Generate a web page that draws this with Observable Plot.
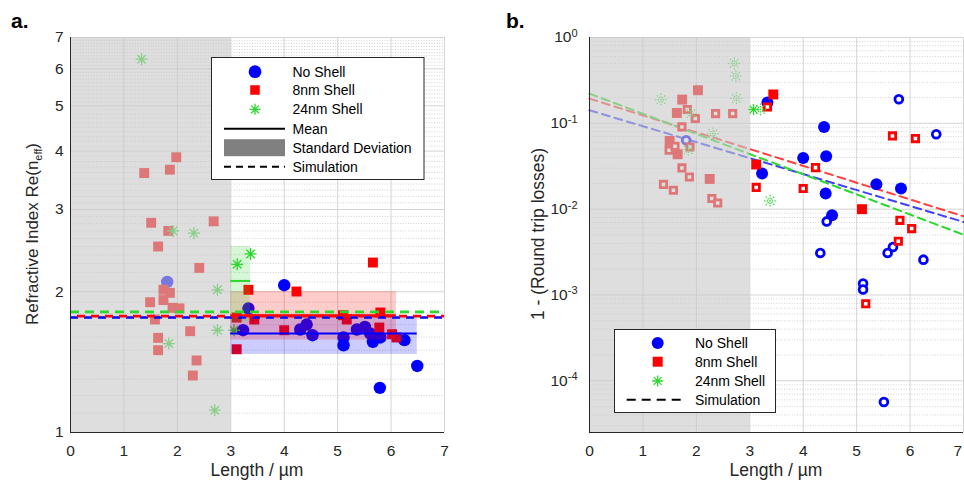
<!DOCTYPE html>
<html><head><meta charset="utf-8">
<script src="https://cdn.jsdelivr.net/npm/d3@7"></script>
<script src="https://cdn.jsdelivr.net/npm/@observablehq/plot@0.6"></script>
<style>
html,body{margin:0;padding:0;background:#fff;overflow:hidden;}
#wrap{position:relative;width:964px;height:481px;}
#wrap svg{position:absolute;top:0;overflow:visible;}
</style></head><body><div id="wrap"></div>
<script>
// ---------- shared ticks ----------
const lengthTicks = [0, 1, 2, 3, 4, 5, 6, 7];
const indexTicks = [1, 2, 3, 4, 5, 6, 7];
const lossTicks = [1e-4, 1e-3, 1e-2, 1e-1, 1];
const groups = ["No Shell", "8nm Shell", "24nm Shell"];
const shadedLength = [0, 3];

// ---------- panel a: refractive index ----------
const aNoShellLen = [1.81, 3.23, 3.33, 4.00, 4.30, 4.42, 4.53, 5.11, 5.11, 5.36, 5.51, 5.61, 5.66, 5.80, 6.25, 6.49, 5.79];
const aNoShellN   = [2.10, 1.655, 1.842, 2.066, 1.661, 1.702, 1.615, 1.597, 1.537, 1.661, 1.682, 1.628, 1.563, 1.597, 1.576, 1.388, 1.246];
const a8nmLen = [1.38, 1.86, 1.98, 1.51, 2.68, 1.83, 1.64, 2.41, 1.74, 1.86, 1.74, 1.49, 1.91, 2.04, 1.58, 2.24, 1.64, 1.64, 2.36, 2.29,
                 3.33, 3.11, 3.11, 3.44, 4.23, 4.00, 5.10, 5.17, 5.66, 5.80, 5.78, 6.02, 6.10];
const a8nmN   = [3.59, 3.65, 3.88, 2.81, 2.83, 2.70, 2.50, 2.25, 2.02, 1.99, 1.92, 1.90, 1.848, 1.843, 1.745, 1.647, 1.594, 1.50, 1.426, 1.324,
                 2.02, 1.762, 1.507, 1.745, 2.003, 1.655, 1.782, 1.745, 2.31, 1.806, 1.677, 1.623, 1.597];
const a24nmLen = [1.33, 1.92, 2.31, 2.75, 2.75, 1.84, 2.70, 3.12, 3.37, 3.06];
const a24nmN   = [6.29, 2.70, 2.67, 2.02, 1.655, 1.55, 1.116, 2.29, 2.41, 1.655];
const aMean     = [1.628, 1.782, 2.11];
const aSdLow    = [1.469, 1.576, 1.72];
const aSdHigh   = [1.762, 2.003, 2.50];
const aFitStart = [3.0, 3.0, 3.0];
const aFitEnd   = [6.49, 6.10, 3.37];
const aSim      = [1.762, 1.774, 1.812];

// ---------- panel b: 1 - round trip losses ----------
const bNoShellLen = [3.33, 4.39, 4.00, 4.43, 3.23, 5.37, 5.83, 4.42, 4.54];
const bNoShellV   = [0.175, 0.0908, 0.0395, 0.0414, 0.026, 0.0195, 0.0174, 0.0152, 0.0085];
const bNoShellOpenLen = [1.81, 5.79, 6.49, 4.44, 4.32, 5.68, 5.58, 6.25, 5.12, 5.12, 5.51];
const bNoShellOpenV   = [0.0636, 0.191, 0.0746, 0.0072, 0.00309, 0.00363, 0.00309, 0.00258, 0.00136, 0.00116, 0.0000566];
const b8nmLen = [2.03, 1.735, 1.635, 1.50, 1.65, 2.25, 3.44, 3.12, 5.10];
const b8nmV   = [0.243, 0.189, 0.132, 0.0624, 0.0436, 0.0225, 0.217, 0.0331, 0.0100];
const b8nmOpenLen = [1.83, 1.98, 2.36, 2.68, 1.73, 1.49, 1.60, 1.88, 1.73, 1.87, 1.385, 1.57, 2.29, 2.40,
                     3.33, 3.12, 4.00, 4.23, 5.67, 6.10, 5.81, 6.03, 5.78, 5.17];
const b8nmOpenV   = [0.145, 0.1138, 0.130, 0.130, 0.0908, 0.0486, 0.054, 0.053, 0.0302, 0.0237, 0.0194, 0.0166, 0.0133, 0.0118,
                     0.155, 0.0179, 0.0174, 0.0305, 0.0713, 0.0665, 0.00742, 0.00594, 0.00423, 0.00079];
const b24nmLen = [3.07];
const b24nmV   = [0.145];
const b24nmOpenLen = [2.71, 2.74, 1.34, 2.75, 1.90, 2.31, 1.85, 3.20, 3.38];
const b24nmOpenV   = [0.498, 0.354, 0.189, 0.195, 0.130, 0.076, 0.049, 0.145, 0.0125];
const bSimLen   = [0, 7];
const bSimNoShell = [0.142, 0.0071];
const bSim8nm     = [0.194, 0.00826];
const bSim24nm    = [0.222, 0.00504];

// ---------- styles ----------
const FONT = '"Liberation Sans", Arial, Helvetica, sans-serif';
const BLUE = "#0000ff", RED = "#ff0000", GREEN = "#2bd82b", INK = "#262626";
const GRID = "#d4d4d4", MINOR = "#c6c6c6";
const groupColor = {"No Shell": BLUE, "8nm Shell": RED, "24nm Shell": GREEN};

const zip = (xs, ys) => xs.map((x, i) => ({x, y: ys[i]}));
const star8 = {
  draw(ctx, size) {
    const r = Math.sqrt(size / Math.PI), d = r * Math.SQRT1_2;
    ctx.moveTo(-r, 0); ctx.lineTo(r, 0);
    ctx.moveTo(0, -r); ctx.lineTo(0, r);
    ctx.moveTo(-d, -d); ctx.lineTo(d, d);
    ctx.moveTo(-d, d); ctx.lineTo(d, -d);
  }
};
const shade = [{x1: shadedLength[0], x2: shadedLength[1]}];

// ---------- panel a ----------
const minorA = d3.range(11, 70).map(v => v / 10).filter(v => v % 1 !== 0);
const bandsA = groups.map((g, i) => ({group: g, x1: aFitStart[i], x2: aFitEnd[i], lo: aSdLow[i], hi: aSdHigh[i], mean: aMean[i], sim: aSim[i]}));

const svgA = Plot.plot({
  width: 482, height: 481,
  marginLeft: 70, marginRight: 38, marginTop: 37, marginBottom: 49,
  style: {fontFamily: FONT, fontSize: "15.5px", color: INK, background: "white", overflow: "visible"},
  x: {domain: [0, 7], ticks: lengthTicks, tickSize: 0, tickPadding: 12, label: null, tickFormat: d => String(d)},
  y: {type: "log", domain: [1, 7], ticks: indexTicks, tickSize: 0, tickPadding: 7, label: null, tickFormat: d => String(d)},
  marks: [
    Plot.ruleY(minorA, {stroke: MINOR, strokeWidth: 0.8, strokeDasharray: "1,1.6"}),
    Plot.ruleY(indexTicks, {stroke: GRID}),
    Plot.ruleX(lengthTicks, {stroke: GRID}),
    Plot.dot(zip(aNoShellLen, aNoShellN), {x: "x", y: "y", r: 6.2, fill: BLUE, symbol: "circle"}),
    Plot.dot(zip(a8nmLen, a8nmN), {x: "x", y: "y", r: 5.6, fill: RED, symbol: "square"}),
    Plot.dot(zip(a24nmLen, a24nmN), {x: "x", y: "y", r: 6, fill: "none", stroke: GREEN, strokeWidth: 1.3, symbol: star8}),
    ...bandsA.map(b => Plot.rect([b], {x1: "x1", x2: "x2", y1: "lo", y2: "hi", fill: groupColor[b.group], fillOpacity: 0.2})),
    Plot.rect(shade, {x1: "x1", x2: "x2", fill: "rgb(200,200,200)", fillOpacity: 0.6}),
    ...bandsA.map(b => Plot.ruleY([b], {y: "mean", x1: "x1", x2: "x2", stroke: groupColor[b.group], strokeWidth: 2})),
    Plot.ruleY([bandsA[2]], {y: "sim", stroke: GREEN, strokeWidth: 2.6, strokeDasharray: "9,6"}),
    Plot.ruleY([bandsA[0]], {y: "sim", stroke: BLUE, strokeWidth: 2.6, strokeDasharray: "8,6"}),
    Plot.ruleY([bandsA[1]], {y: "sim", stroke: RED, strokeWidth: 2.6, strokeDasharray: "8,6", strokeDashoffset: 7}),
    Plot.ruleX([0], {stroke: INK}),
    Plot.ruleY([1], {stroke: INK})
  ]
});
svgA.style.left = "0px";

// ---------- panel b ----------
const minorB = [];
for (let k = -5; k < 0; k++) for (let m = 2; m <= 9; m++) { const v = m * Math.pow(10, k); if (v >= 2.5e-5) minorB.push(v); }

const svgB = Plot.plot({
  width: 482, height: 481,
  marginLeft: 107, marginRight: 1, marginTop: 37, marginBottom: 49,
  style: {fontFamily: FONT, fontSize: "15.5px", color: INK, background: "white", overflow: "visible"},
  x: {domain: [0, 7], ticks: lengthTicks, tickSize: 0, tickPadding: 12, label: null, tickFormat: d => String(d)},
  y: {type: "log", domain: [2.5e-5, 1], ticks: lossTicks, tickSize: 0, tickPadding: 12, label: null,
      tickFormat: d => "10^" + Math.round(Math.log10(d))},
  marks: [
    Plot.ruleY(minorB, {stroke: MINOR, strokeWidth: 0.8, strokeDasharray: "1,1.6"}),
    Plot.ruleY(lossTicks, {stroke: GRID}),
    Plot.ruleX(lengthTicks, {stroke: GRID}),
    Plot.line(zip(bSimLen, bSimNoShell), {x: "x", y: "y", stroke: BLUE, strokeOpacity: 0.75, strokeWidth: 2, strokeDasharray: "8,5"}),
    Plot.line(zip(bSimLen, bSim8nm), {x: "x", y: "y", stroke: RED, strokeOpacity: 0.75, strokeWidth: 2, strokeDasharray: "8,5"}),
    Plot.line(zip(bSimLen, bSim24nm), {x: "x", y: "y", stroke: GREEN, strokeWidth: 2, strokeDasharray: "8,5"}),
    Plot.dot(zip(bNoShellLen, bNoShellV), {x: "x", y: "y", r: 6, fill: BLUE, symbol: "circle"}),
    Plot.dot(zip(bNoShellOpenLen, bNoShellOpenV), {x: "x", y: "y", r: 3.9, fill: "white", stroke: BLUE, strokeWidth: 2.8, symbol: "circle"}),
    Plot.dot(zip(b8nmLen, b8nmV), {x: "x", y: "y", r: 5.6, fill: RED, symbol: "square"}),
    Plot.dot(zip(b8nmOpenLen, b8nmOpenV), {x: "x", y: "y", r: 3.6, fill: "white", stroke: RED, strokeWidth: 2.8, symbol: "square"}),
    Plot.dot(zip(b24nmLen, b24nmV), {x: "x", y: "y", r: 5.5, fill: "none", stroke: GREEN, strokeWidth: 1.3, symbol: star8}),
    Plot.dot(zip(b24nmOpenLen, b24nmOpenV), {x: "x", y: "y", r: 6, fill: "none", stroke: GREEN, strokeWidth: 1.3, strokeDasharray: "1.3,1.3", symbol: star8}),
    Plot.rect(shade, {x1: "x1", x2: "x2", fill: "rgb(200,200,200)", fillOpacity: 0.6}),
    Plot.ruleX([0], {stroke: INK}),
    Plot.ruleY([2.5e-5], {stroke: INK})
  ]
});
svgB.style.left = "482px";

const wrap = document.getElementById("wrap");
wrap.append(svgA, svgB);

// superscript exponents on panel b tick labels
d3.select(svgB).selectAll('g[aria-label="y-axis tick label"] text').each(function () {
  const s = this.textContent;
  if (!s.includes("^")) return;
  const [base, exp] = s.split("^");
  const t = d3.select(this);
  t.text(base);
  t.append("tspan").attr("dy", "-0.5em").attr("font-size", "11px").text(exp);
});
// keep the last x tick label of panel b inside the page edge
{
  const xt = d3.select(svgB).selectAll('g[aria-label="x-axis tick label"] text').nodes();
  if (xt.length) d3.select(xt[xt.length - 1]).attr("text-anchor", "end").attr("dx", "-1.5");
}

// ---------- annotations ----------
function addText(svg, x, y, str, o = {}) {
  return d3.select(svg).append("text")
    .attr("x", x).attr("y", y).attr("font-family", FONT)
    .attr("font-size", o.size || 14).attr("font-weight", o.weight || null)
    .attr("text-anchor", o.anchor || "start").attr("fill", o.fill || "#000")
    .text(str);
}
// panel titles
addText(svgA, 11, 28, "a.", {size: 21, weight: "bold"});
addText(svgB, 24, 28, "b.", {size: 21, weight: "bold"});
// x labels
addText(svgA, 257, 476, "Length / µm", {size: 17.5, anchor: "middle", fill: INK});
addText(svgB, 294, 476, "Length / µm", {size: 17.5, anchor: "middle", fill: INK});
// y labels
{
  const t = d3.select(svgA).append("text").attr("transform", "translate(38,234) rotate(-90)")
    .attr("text-anchor", "middle").attr("font-family", FONT).attr("font-size", 17).attr("fill", INK);
  t.append("tspan").text("Refractive Index Re(n");
  t.append("tspan").attr("dy", 4).attr("font-size", 11).text("eff");
  t.append("tspan").attr("dy", -4).text(")");
  d3.select(svgB).append("text").attr("transform", "translate(62,234) rotate(-90)")
    .attr("text-anchor", "middle").attr("font-family", FONT).attr("font-size", 17.5).attr("fill", INK)
    .text("1 - (Round trip losses)");
}

// ---------- legends ----------
function legend(svg, o) {
  const g = d3.select(svg).append("g").attr("text-anchor", "start");
  g.append("rect").attr("x", o.box[0]).attr("y", o.box[1]).attr("width", o.box[2]).attr("height", o.box[3])
    .attr("fill", "white").attr("stroke", INK).attr("stroke-width", 1);
  o.items.forEach((it, i) => {
    const y = o.rows[i];
    if (it.kind === "circle") g.append("circle").attr("cx", o.mx).attr("cy", y).attr("r", o.cr).attr("fill", BLUE);
    if (it.kind === "square") g.append("rect").attr("x", o.mx - o.sq / 2).attr("y", y - o.sq / 2).attr("width", o.sq).attr("height", o.sq).attr("fill", RED);
    if (it.kind === "star") g.append("path").attr("transform", `translate(${o.mx},${y})`)
      .attr("d", d3.symbol(star8, Math.PI * o.st * o.st)()).attr("fill", "none").attr("stroke", GREEN).attr("stroke-width", 1.3);
    if (it.kind === "mean") g.append("line").attr("x1", o.lx1).attr("x2", o.lx2).attr("y1", y).attr("y2", y).attr("stroke", "#000").attr("stroke-width", 2);
    if (it.kind === "sd") g.append("rect").attr("x", o.lx1).attr("y", y - 8.5).attr("width", o.lx2 - o.lx1).attr("height", 17).attr("fill", "#808080");
    if (it.kind === "sim") g.append("line").attr("x1", o.lx1).attr("x2", o.lx2).attr("y1", y).attr("y2", y).attr("stroke", "#000").attr("stroke-width", 2).attr("stroke-dasharray", o.dash);
    g.append("text").attr("x", o.tx).attr("y", y).attr("dy", "0.35em").attr("text-anchor", "start")
      .attr("font-family", FONT).attr("font-size", 14).attr("fill", "#000").text(it.label);
  });
}
legend(svgA, {
  box: [211.5, 57.5, 212.5, 122], mx: 255, tx: 292.5, lx1: 224, lx2: 285, cr: 6.4, sq: 9.5, st: 5.5, dash: "7,5",
  rows: [71.7, 90, 109.3, 128.7, 147.7, 166.7],
  items: [{kind: "circle", label: groups[0]}, {kind: "square", label: groups[1]}, {kind: "star", label: groups[2]},
          {kind: "mean", label: "Mean"}, {kind: "sd", label: "Standard Deviation"}, {kind: "sim", label: "Simulation"}]
});
legend(svgB, {
  box: [132.5, 329.5, 161, 83], mx: 175.7, tx: 213, lx1: 144.7, lx2: 204.7, cr: 6, sq: 10, st: 5.5, dash: "9,6",
  rows: [343, 361.7, 381, 399.7],
  items: [{kind: "circle", label: groups[0]}, {kind: "square", label: groups[1]}, {kind: "star", label: groups[2]},
          {kind: "sim", label: "Simulation"}]
});
</script></body></html>
